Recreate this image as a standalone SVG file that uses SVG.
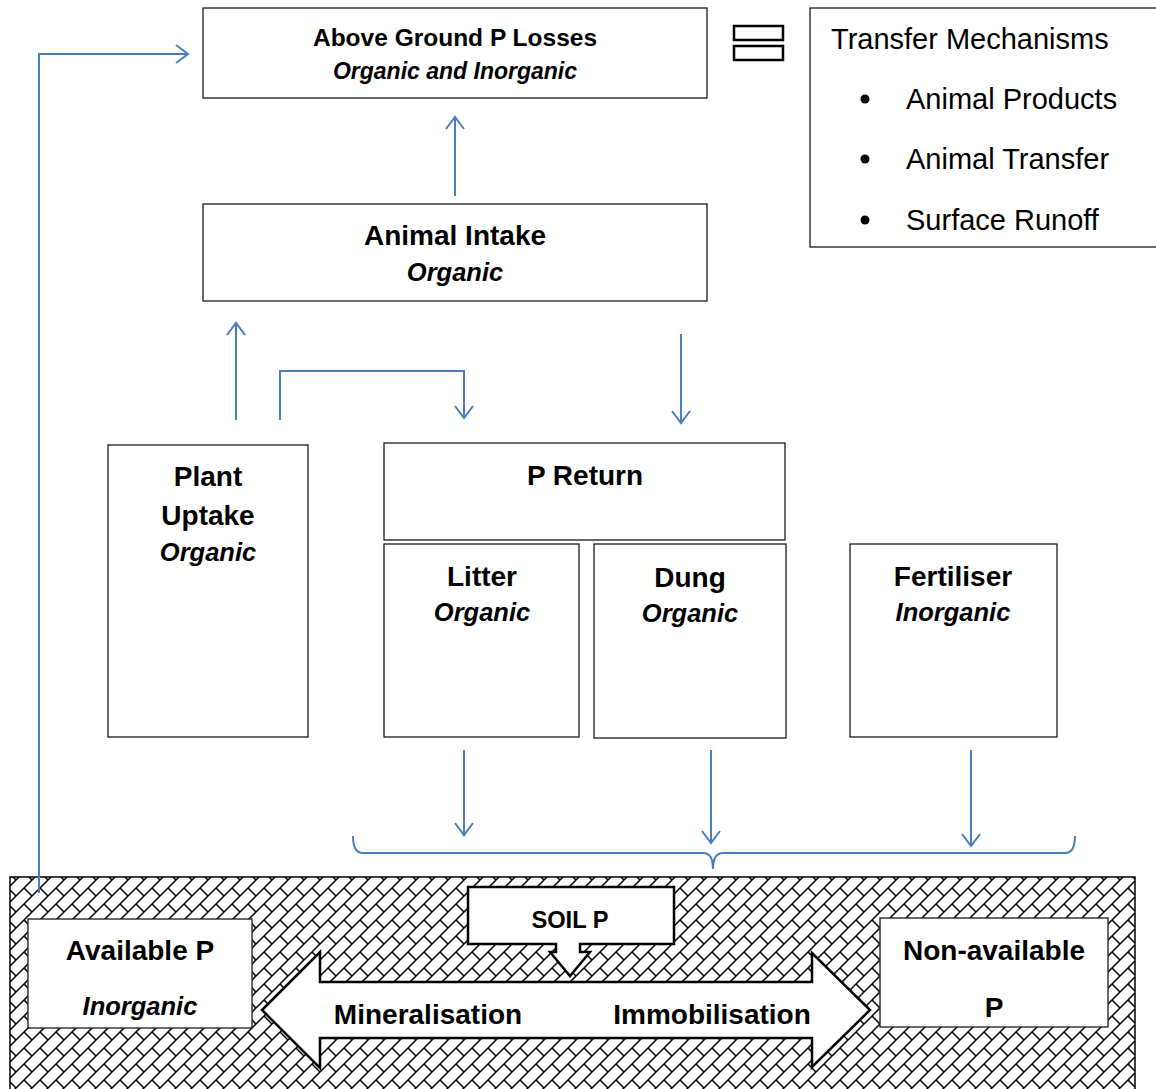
<svg xmlns="http://www.w3.org/2000/svg" width="1156" height="1089" viewBox="0 0 1156 1089">
<style>
.box{fill:#fff;stroke:#1a1a1a;stroke-width:1.3}
.t{font-family:"Liberation Sans",Arial,sans-serif;font-weight:bold;font-size:28px;text-anchor:middle;fill:#000}
.i{font-family:"Liberation Sans",Arial,sans-serif;font-weight:bold;font-style:italic;font-size:25.5px;text-anchor:middle;fill:#000}
.r{font-family:"Liberation Sans",Arial,sans-serif;font-size:29px;fill:#000}
.c{fill:none;stroke:#4a7ebb;stroke-width:2}
.thick{fill:#fff;stroke:#000;stroke-width:2.5}
</style>
<defs>
<pattern id="brick" width="16" height="16" patternUnits="userSpaceOnUse">
<rect width="16" height="16" fill="#fff"/>
<path d="M-2,18 L18,-2 M8,8 L17,17 M-1,-1 L0.5,0.5" stroke="#000" stroke-width="1.5" fill="none"/>
</pattern>
<marker id="ah" markerUnits="userSpaceOnUse" markerWidth="16" markerHeight="22" refX="13" refY="10" orient="auto">
<path d="M1,1 L13,10 L1,19" fill="none" stroke="#4a7ebb" stroke-width="2"/>
</marker>
</defs>

<g id="soil">
<rect x="10" y="877" width="1125" height="220" fill="url(#brick)" stroke="#000" stroke-width="1.5"/>
</g>

<g id="connectors">
<path class="c" d="M39,893 V54 H188" marker-end="url(#ah)"/>
<path class="c" d="M455,196 V117" marker-end="url(#ah)"/>
<path class="c" d="M236,420 V323" marker-end="url(#ah)"/>
<path class="c" d="M280,420 V371 H464 V418" marker-end="url(#ah)"/>
<path class="c" d="M681,334 V423" marker-end="url(#ah)"/>
<path class="c" d="M464,750 V835" marker-end="url(#ah)"/>
<path class="c" d="M711,750 V843" marker-end="url(#ah)"/>
<path class="c" d="M971,750 V846" marker-end="url(#ah)"/>
<path class="c" d="M353,836 Q353,853 363,853 H703 Q713,853 713,869 Q713,853 723,853 H1065 Q1075,853 1075,836"/>
</g>

<g id="above-ground">
<rect class="box" x="203" y="8" width="504" height="90"/>
<text class="t" x="455" y="46" style="font-size:24.5px">Above Ground P Losses</text>
<text class="i" x="455" y="79" style="font-size:23px">Organic and Inorganic</text>
</g>

<g id="equals">
<rect x="734" y="26" width="49" height="14" fill="#fff" stroke="#000" stroke-width="2.5"/>
<rect x="734" y="46" width="49" height="14" fill="#fff" stroke="#000" stroke-width="2.5"/>
</g>

<g id="transfer">
<rect class="box" x="810" y="8" width="360" height="239"/>
<text class="r" x="831" y="49">Transfer Mechanisms</text>
<circle cx="865" cy="99" r="4.5" fill="#000"/>
<circle cx="865" cy="159" r="4.5" fill="#000"/>
<circle cx="865" cy="220" r="4.5" fill="#000"/>
<text class="r" x="906" y="109">Animal Products</text>
<text class="r" x="906" y="169">Animal Transfer</text>
<text class="r" x="906" y="230">Surface Runoff</text>
</g>

<g id="animal-intake">
<rect class="box" x="203" y="204" width="504" height="97"/>
<text class="t" x="455" y="245">Animal Intake</text>
<text class="i" x="455" y="281">Organic</text>
</g>

<g id="plant-uptake">
<rect class="box" x="108" y="445" width="200" height="292"/>
<text class="t" x="208" y="486">Plant</text>
<text class="t" x="208" y="525">Uptake</text>
<text class="i" x="208" y="561">Organic</text>
</g>

<g id="p-return">
<rect class="box" x="384" y="443" width="401" height="97"/>
<text class="t" x="585" y="485">P Return</text>
</g>

<g id="litter">
<rect class="box" x="384" y="544" width="195" height="193"/>
<text class="t" x="482" y="586">Litter</text>
<text class="i" x="482" y="621">Organic</text>
</g>

<g id="dung">
<rect class="box" x="594" y="544" width="192" height="194"/>
<text class="t" x="690" y="587">Dung</text>
<text class="i" x="690" y="622">Organic</text>
</g>

<g id="fertiliser">
<rect class="box" x="850" y="544" width="207" height="193"/>
<text class="t" x="953" y="586">Fertiliser</text>
<text class="i" x="953" y="621">Inorganic</text>
</g>

<g id="available-p">
<rect class="box" x="28" y="919" width="224" height="109"/>
<text class="t" x="140" y="960">Available P</text>
<text class="i" x="140" y="1015">Inorganic</text>
</g>

<g id="exchange-arrow">
<path class="thick" d="M262,1010 L320,952 L320,982 L812,982 L812,953 L870,1010 L812,1067 L812,1038 L320,1038 L320,1068 Z"/>
<text class="t" x="428" y="1024">Mineralisation</text>
<text class="t" x="712" y="1024">Immobilisation</text>
</g>

<g id="soil-p">
<path class="thick" d="M468,887 H674 V944 H580 V952 H590 L570,976 L550,952 H556 V944 H468 Z"/>
<text class="t" x="570" y="928" style="font-size:23.7px">SOIL P</text>
</g>

<g id="non-available-p">
<rect class="box" x="880" y="918" width="228" height="109"/>
<text class="t" x="994" y="960">Non-available</text>
<text class="t" x="994" y="1017">P</text>
</g>
</svg>
